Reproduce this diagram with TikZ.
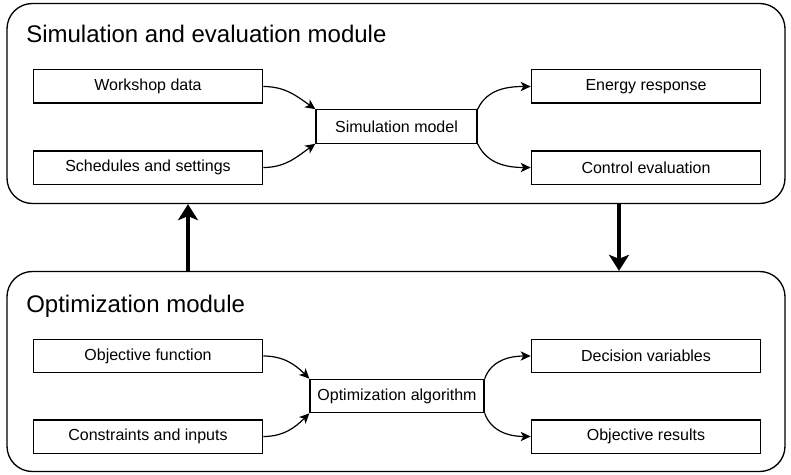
\documentclass[tikz,border=0pt]{standalone}
\usepackage{fontspec}
\setmainfont{Liberation Sans}
\usetikzlibrary{arrows.meta}

\tikzset{
    module/.style={draw, line width=1pt, rounded corners=19pt, minimum width=583.5pt, minimum height=150pt, inner sep=0pt},
    modtitle/.style={anchor=base west, inner sep=0pt, font=\fontsize{18}{21}\selectfont},
    box/.style={draw, line width=1pt, minimum width=172pt, minimum height=25pt, inner sep=0pt, font=\fontsize{12}{14}\selectfont},
    link/.style={line width=0.9pt, -{Stealth[length=7.5pt, width=7pt, inset=2pt]}},
    feed/.style={line width=2.3pt, -{Stealth[length=12pt, width=15pt, inset=3pt]}}
}

\begin{document}
\begin{tikzpicture}[x=0.75pt, y=-0.75pt]
    \useasboundingbox (0,0) rectangle (791,474);

    % Simulation and evaluation module
    \node[module] (simmod) at (396,103.5) {};
    \node[modtitle] (simtitle) at (26,43) {Simulation and evaluation module};
    \node[box] (wd) at (148,86.5) {Workshop data};
    \node[box] (ss) at (148,167.5) {Schedules and settings};
    \node[box, minimum width=120.75pt] (sim) at (396.5,126.5) {Simulation model};
    \node[box] (er) at (646,86.5) {Energy response};
    \node[box] (ce) at (646,167.5) {Control evaluation};

    \draw[link] (wd.east) to[out=0, in=145] (sim.north west);
    \draw[link] (ss.east) to[out=0, in=215] (sim.south west);
    \draw[link] (sim.north east) to[out=65, in=180] (er.west);
    \draw[link] (sim.south east) to[out=-65, in=180] (ce.west);

    % Optimization module
    \node[module] (optmod) at (396,371.5) {};
    \node[modtitle] (opttitle) at (26,312) {Optimization module};
    \node[box] (of) at (148,356) {Objective function};
    \node[box] (ci) at (148,436.5) {Constraints and inputs};
    \node[box, minimum width=130.5pt] (oa) at (397,396) {Optimization algorithm};
    \node[box] (dv) at (646,356) {Decision variables};
    \node[box] (ors) at (646,436.5) {Objective results};

    \draw[link] (of.east) to[out=0, in=135] (oa.north west);
    \draw[link] (ci.east) to[out=0, in=225] (oa.south west);
    \draw[link] (oa.north east) to[out=70, in=180] (dv.west);
    \draw[link] (oa.south east) to[out=-70, in=180] (ors.west);

    % exchange between the modules
    \coordinate (up) at (188,0);
    \coordinate (down) at (619,0);
    \draw[feed] (up |- optmod.north) -- (up |- simmod.south);
    \draw[feed] (down |- simmod.south) -- (down |- optmod.north);
\end{tikzpicture}
\end{document}
